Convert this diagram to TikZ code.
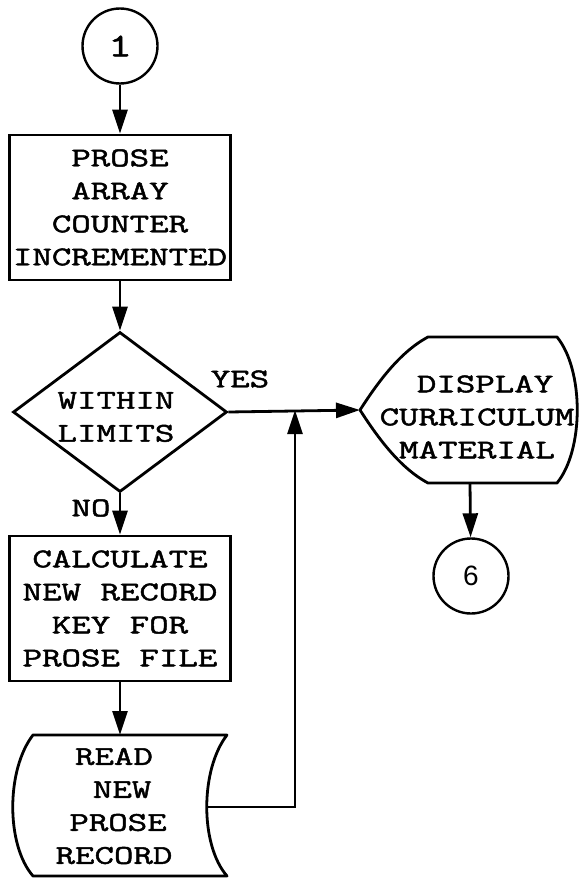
\documentclass[tikz,border=0pt]{standalone}
\usepackage{fontspec}
\setmonofont[FakeStretch=1.4,FakeBold=1.8]{Latin Modern Mono}
\newfontfamily\digitfont{Liberation Sans}
\usetikzlibrary{shapes.geometric,arrows.meta}

\begin{document}
\begin{tikzpicture}[x=1pt,y=-1pt,
  every node/.style={font=\ttfamily\fontsize{27}{33}\selectfont},
  flow/.style={line width=2.8pt},
  arr/.style={flow,-{Triangle[length=24pt,width=15pt]}},
  procbox/.style={draw,line width=2.8pt,rectangle,minimum width=221pt,
    minimum height=145pt,inner sep=0pt,align=center},
  conn/.style={draw,line width=2.4pt,circle,minimum size=75pt,inner sep=0pt},
  decide/.style={draw,line width=2.8pt,diamond,minimum width=214pt,
    minimum height=160pt,inner sep=0pt},
  txt/.style={align=center,inner sep=0pt},
  outline/.style={line width=2.8pt,line join=round}
]
\useasboundingbox (0,0) rectangle (578,883);

% left column
\node[conn,font=\ttfamily\fontsize{33}{33}\selectfont] (c1) at (120,46) {1};
\node[procbox] (b1) at (120,207.5) {PROSE\\ARRAY\\COUNTER\\INCREMENTED};
\node[decide] (dm) at (120,412) {};
\node[txt] (dmtext) at (116,417) {WITHIN\\LIMITS};
\node[procbox] (b2) at (120,608.5) {CALCULATE\\NEW RECORD\\KEY FOR\\PROSE FILE};

% stored-data symbol
\draw[outline] (33,735) -- (227,735)
  .. controls (200,770) and (200,845) .. (227,876)
  -- (33,876)
  .. controls (6,845) and (6,770) .. (33,735) -- cycle;
\coordinate (rdtop) at (120,735);
\coordinate (rdr) at (207,807);
\node[txt] (rd) at (114,806) {READ\\\hspace*{0.6em}NEW\\\hspace*{0.3em}PROSE\\RECORD};

% display symbol
\draw[outline] (360,410) .. controls (378,382) and (400,352) .. (428,337)
  -- (557,337)
  .. controls (584,370) and (584,450) .. (557,483)
  -- (428,483)
  .. controls (400,468) and (378,438) .. (360,410) -- cycle;
\coordinate (dpl) at (360,410);
\coordinate (dpbot) at (470,483);
\node[txt] (dp) at (477,417) {\hspace*{0.6em}DISPLAY\\CURRICULUM\\MATERIAL};

\node[conn,font=\digitfont\fontsize{28}{30}\selectfont] (c6) at (471,576) {6};

% labels
\node[txt] (yes) at (240,379) {YES};
\node[txt] (no) at (91,508) {NO};

% connectors
\coordinate (jn) at (295,410);
\draw[arr] (c1) -- (b1);
\draw[arr] (b1) -- (dm);
\draw[arr] (dm) -- (b2);
\draw[arr] (b2) -- (rdtop);
\draw[arr] (dm.east) -- (dpl);
\draw[arr] (rdr) -| (jn);
\draw[arr] (dpbot) -- (c6);
\end{tikzpicture}
\end{document}
